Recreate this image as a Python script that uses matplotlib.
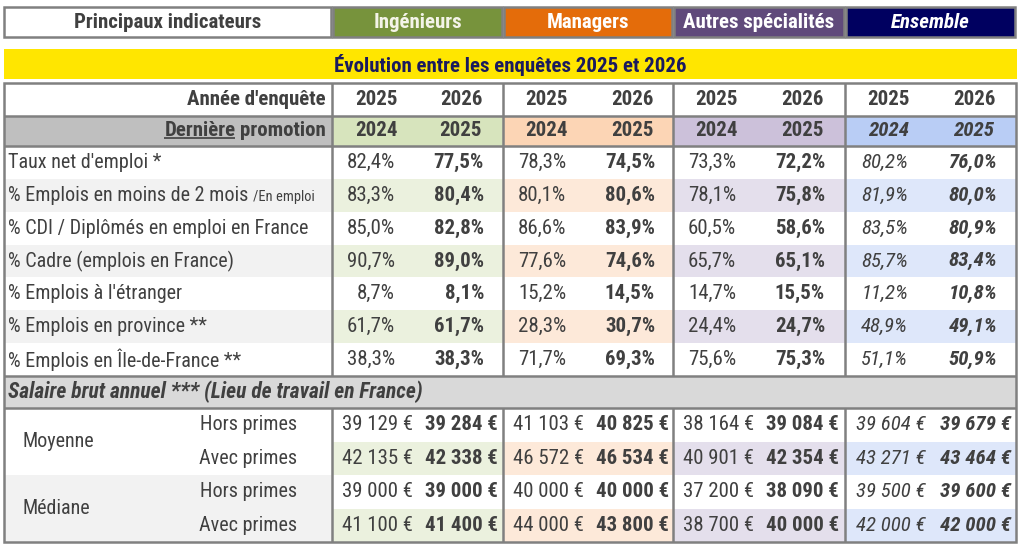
import matplotlib
matplotlib.use('Agg')
import matplotlib.pyplot as plt
from matplotlib.patches import Rectangle
from matplotlib import font_manager

# ---------------- data ----------------
groups = ['Ingénieurs', 'Managers', 'Autres spécialités', 'Ensemble']
survey_years = ['2025', '2026']
promo_years = ['2024', '2025']
indicators = ["Taux net d'emploi *",
              "% Emplois en moins de 2 mois",
              "% CDI / Diplômés en emploi en France",
              "% Cadre (emplois en France)",
              "% Emplois à l'étranger",
              "% Emplois en province **",
              "% Emplois en Île-de-France **"]
ing_2025 = [82.4, 83.3, 85.0, 90.7, 8.7, 61.7, 38.3]
ing_2026 = [77.5, 80.4, 82.8, 89.0, 8.1, 61.7, 38.3]
man_2025 = [78.3, 80.1, 86.6, 77.6, 15.2, 28.3, 71.7]
man_2026 = [74.5, 80.6, 83.9, 74.6, 14.5, 30.7, 69.3]
aut_2025 = [73.3, 78.1, 60.5, 65.7, 14.7, 24.4, 75.6]
aut_2026 = [72.2, 75.8, 58.6, 65.1, 15.5, 24.7, 75.3]
ens_2025 = [80.2, 81.9, 83.5, 85.7, 11.2, 48.9, 51.1]
ens_2026 = [76.0, 80.0, 80.9, 83.4, 10.8, 49.1, 50.9]

salary_stats = ['Moyenne', 'Médiane']
salary_kinds = ['Hors primes', 'Avec primes']
ing_sal_2025 = [39129, 42135, 39000, 41100]
ing_sal_2026 = [39284, 42338, 39000, 41400]
man_sal_2025 = [41103, 46572, 40000, 44000]
man_sal_2026 = [40825, 46534, 40000, 43800]
aut_sal_2025 = [38164, 40901, 37200, 38700]
aut_sal_2026 = [39084, 42354, 38090, 40000]
ens_sal_2025 = [39604, 43271, 39500, 42000]
ens_sal_2026 = [39679, 43464, 39600, 42000]

pct_data = [(ing_2025, ing_2026), (man_2025, man_2026), (aut_2025, aut_2026), (ens_2025, ens_2026)]
sal_data = [(ing_sal_2025, ing_sal_2026), (man_sal_2025, man_sal_2026),
            (aut_sal_2025, aut_sal_2026), (ens_sal_2025, ens_sal_2026)]

# ---------------- style ----------------
names = {f.name for f in font_manager.fontManager.ttflist}
if 'Roboto Condensed' in names:
    FAM = ['Roboto Condensed', 'DejaVu Sans']
    S = 1.0
else:
    FAM = ['Liberation Sans', 'DejaVu Sans']
    S = 0.84
plt.rcParams['font.family'] = FAM

head_col = ['#77933C', '#E46C0A', '#604A7B', '#000060']
head_txt = ['#F4F4E8', '#FFFFFF', '#FFFFFF', '#FFFFFF']
light_col = ['#D7E4BD', '#FCD5B5', '#CCC1DA', '#B9CDF5']
tint_col = ['#EBF1DE', '#FDE9D9', '#E4DFEC', '#DEE7FA']
GRID = '#808080'
TXT = '#404040'
FS = 15 * S
FSL = 14.5 * S

fig = plt.figure(figsize=(10.24, 5.5), dpi=100)
ax = fig.add_axes([0, 0, 1, 1])
ax.set_xlim(0, 1024)
ax.set_ylim(550, 0)
ax.axis('off')

XL, XR = 4, 1016
gx = [332, 503, 673, 845, 1016]

def rect(x0, y0, x1, y1, fc, ec='none', lw=0, z=1):
    ax.add_patch(Rectangle((x0, y0), x1 - x0, y1 - y0, facecolor=fc, edgecolor=ec, lw=lw, zorder=z))

# top header
rect(XL, 7, gx[0] - 1, 37, 'white', GRID, 1.8)
ax.text((XL + gx[0]) / 2, 22, 'Principaux indicateurs', ha='center', va='center',
        fontsize=FS, fontweight='bold', color=TXT)
for g in range(4):
    rect(gx[g] + 1, 7, gx[g + 1] - 1, 37, head_col[g], GRID, 1.8)
    ax.text((gx[g] + gx[g + 1]) / 2, 22, groups[g], ha='center', va='center',
            fontsize=FS, fontweight='bold', color=head_txt[g],
            fontstyle='italic' if g == 3 else 'normal')

# yellow band
rect(XL, 49, 1017, 79, '#FFE600')
ax.text(510, 64.5, 'Évolution entre les enquêtes 2025 et 2026', ha='center', va='center',
        fontsize=FS, fontweight='bold', color='#1A1A5E')

# rows geometry
T0 = 83
y_an = (T0, 116)
y_de = (116, 146)
RH = (376 - 146) / 7
data_rows = [(146 + i * RH, 146 + (i + 1) * RH) for i in range(7)]
y_sh = (376, 408)
SH = (542 - 408) / 4
sal_rows = [(408 + i * SH, 408 + (i + 1) * SH) for i in range(4)]
BOT = 542

# fills
rect(XL, y_an[0], XR, y_an[1], 'white')
rect(XL, y_de[0], gx[0], y_de[1], '#BFBFBF')
for g in range(4):
    rect(gx[g], y_de[0], gx[g + 1], y_de[1], light_col[g])
for i, (a, b) in enumerate(data_rows):
    if i % 2 == 1:
        rect(XL, a, gx[0], b, '#F2F2F2')
        for g in range(4):
            rect(gx[g], a, gx[g + 1], b, tint_col[g])
rect(XL, y_sh[0], XR, y_sh[1], '#D9D9D9')
rect(XL, sal_rows[2][0], gx[0], BOT, '#F2F2F2')
for i, (a, b) in enumerate(sal_rows):
    if i % 2 == 1:
        for g in range(4):
            rect(gx[g], a, gx[g + 1], b, tint_col[g])

# lines
LW = 1.8
ax.add_patch(Rectangle((XL, T0), XR - XL, BOT - T0, fill=False, edgecolor=GRID, lw=LW, zorder=3))
for yy in [y_an[1], y_de[1], y_sh[0], y_sh[1]]:
    ax.plot([XL, XR], [yy, yy], color=GRID, lw=LW, zorder=3, solid_capstyle='butt')
for xx in gx[:-1]:
    ax.plot([xx, xx], [T0, y_sh[0]], color=GRID, lw=LW, zorder=3, solid_capstyle='butt')
    ax.plot([xx, xx], [y_sh[1], BOT], color=GRID, lw=LW, zorder=3, solid_capstyle='butt')

def mid(r):
    return (r[0] + r[1]) / 2

# header rows text
ax.text(326, mid(y_an), "Année d'enquête", ha='right', va='center', fontsize=FS,
        fontweight='bold', color=TXT)
t_promo = ax.text(326, mid(y_de), 'promotion', ha='right', va='center', fontsize=FS,
                  fontweight='bold', color=TXT)
t_der = ax.annotate('Dernière', xy=(0, 0), xycoords=t_promo, xytext=(-3.5, 0),
                    textcoords='offset points', ha='right', va='bottom', fontsize=FS,
                    fontweight='bold', color=TXT)
for g in range(4):
    for k, off in enumerate([44, 129]):
        ax.text(gx[g] + off, mid(y_an), survey_years[k], ha='center', va='center', fontsize=FS,
                fontweight='bold', color=TXT)
        ax.text(gx[g] + off, mid(y_de), promo_years[k], ha='center', va='center', fontsize=FS,
                fontweight='bold', color=TXT, fontstyle='italic' if g == 3 else 'normal')

# indicator labels
for i, lab in enumerate(indicators):
    t = ax.text(8, mid(data_rows[i]), lab, ha='left', va='center', fontsize=FSL, color=TXT)
    if i == 1:
        ax.annotate('/En emploi', xy=(1, 0), xycoords=t, xytext=(3.5, 0.6),
                    textcoords='offset points', ha='left', va='bottom',
                    fontsize=FSL * 0.72, color=TXT)

def pct(v):
    return f"{v:.1f}%".replace('.', ',')

def eur(v):
    return f"{v:,} €".replace(',', ' ')

for g in range(4):
    it = 'italic' if g == 3 else 'normal'
    a25, a26 = pct_data[g]
    for i in range(7):
        yc = mid(data_rows[i])
        ax.text(gx[g] + 63, yc, pct(a25[i]), ha='right', va='center', fontsize=FS,
                color=TXT, fontstyle=it)
        ax.text(gx[g] + 152, yc, pct(a26[i]), ha='right', va='center', fontsize=FS,
                color=TXT, fontweight='bold', fontstyle=it)
    s25, s26 = sal_data[g]
    for i in range(4):
        yc = mid(sal_rows[i])
        ax.text(gx[g] + 81, yc, eur(s25[i]), ha='right', va='center', fontsize=FS,
                color=TXT, fontstyle=it)
        ax.text(gx[g] + 166, yc, eur(s26[i]), ha='right', va='center', fontsize=FS,
                color=TXT, fontweight='bold', fontstyle=it)

# salary block labels
ax.text(8, mid(y_sh), 'Salaire brut annuel *** (Lieu de travail en France)', ha='left',
        va='center', fontsize=15.5 * S, fontweight='bold', fontstyle='italic', color=TXT)
for s in range(2):
    ax.text(22, sal_rows[2 * s][1], salary_stats[s], ha='left', va='center', fontsize=FSL,
            color=TXT)
    for k in range(2):
        ax.text(297, mid(sal_rows[2 * s + k]), salary_kinds[k], ha='right', va='center',
                fontsize=FSL, color=TXT)

# underline "Dernière"
fig.canvas.draw()
bb = t_der.get_window_extent()
inv = ax.transData.inverted()
(x0, y0), (x1, _) = inv.transform([(bb.x0, bb.y0 + 3), (bb.x1, bb.y0 + 3)])
ax.plot([x0, x1], [y0, y0], color=TXT, lw=1.2, zorder=4, solid_capstyle='butt')

fig.savefig('out.png', dpi=100)
